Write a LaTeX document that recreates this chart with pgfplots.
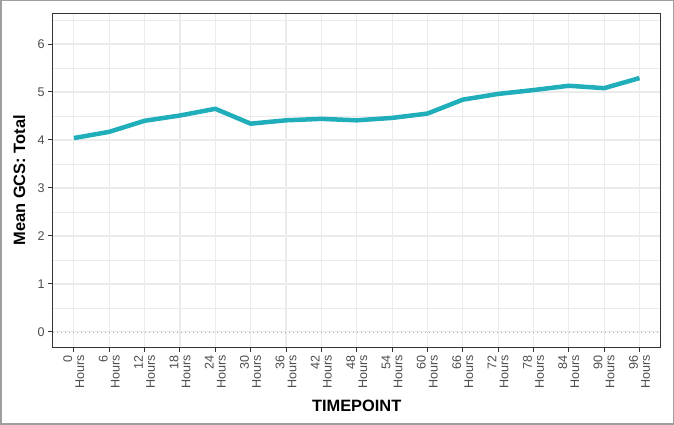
\documentclass[border=0pt]{standalone}
\usepackage{fontspec}
\setmainfont{Liberation Sans}
\usepackage{pgfplots}
\pgfplotsset{compat=1.18}
\definecolor{lineteal}{RGB}{31,174,186}
\definecolor{gridgray}{RGB}{235,235,235}
\definecolor{ticktext}{RGB}{77,77,77}
\definecolor{framegray}{RGB}{51,51,51}
\begin{document}
\begin{tikzpicture}[x=1pt,y=1pt]
\useasboundingbox (0,0) rectangle (674,425);
\draw[gray!75, line width=1.5pt] (0.75,0.75) rectangle (673.25,424.25);
\begin{axis}[
  at={(52.7pt,77.7pt)}, anchor=south west,
  scale only axis, width=608pt, height=334pt,
  xmin=-0.6, xmax=16.6, ymin=-0.32, ymax=6.64,
  xtick={0,...,16},
  xticklabels={{0\\Hours},{6\\Hours},{12\\Hours},{18\\Hours},{24\\Hours},{30\\Hours},
    {36\\Hours},{42\\Hours},{48\\Hours},{54\\Hours},{60\\Hours},{66\\Hours},
    {72\\Hours},{78\\Hours},{84\\Hours},{90\\Hours},{96\\Hours}},
  xticklabel style={rotate=90, anchor=east, align=right, text=ticktext,
    font=\fontsize{12.6}{12}\selectfont},
  ytick={0,1,...,6},
  minor ytick={0.5,1.5,...,6.5},
  yticklabel style={text=ticktext, font=\fontsize{12.6}{14}\selectfont},
  /pgf/number format/assume math mode=true,
  tick pos=left, tick align=outside,
  major tick length=4.5pt, minor tick length=0pt,
  tick style={color=framegray, line width=1pt},
  grid=both,
  major grid style={gridgray, line width=1.1pt},
  minor grid style={gridgray, line width=0.55pt},
  axis line style={framegray, line width=1.1pt},
  xlabel={\bfseries TIMEPOINT},
  ylabel={\bfseries Mean GCS: Total},
  label style={font=\fontsize{16.4}{18}\selectfont},
  xlabel style={at={(axis description cs:0.5,-0.176)}, anchor=center},
  ylabel style={at={(axis description cs:-0.055,0.5)}, anchor=center},
]
\addplot[gray!70, line width=0.8pt, dash pattern=on 1pt off 3pt, forget plot]
  coordinates {(-0.6,0) (16.6,0)};
\addplot[lineteal, line width=4.5pt, line join=round, mark=none] table {
x y
0 4.04
1 4.17
2 4.40
3 4.51
4 4.65
5 4.34
6 4.41
7 4.44
8 4.41
9 4.46
10 4.55
11 4.84
12 4.96
13 5.04
14 5.13
15 5.08
16 5.29
};
\end{axis}
\end{tikzpicture}
\end{document}
